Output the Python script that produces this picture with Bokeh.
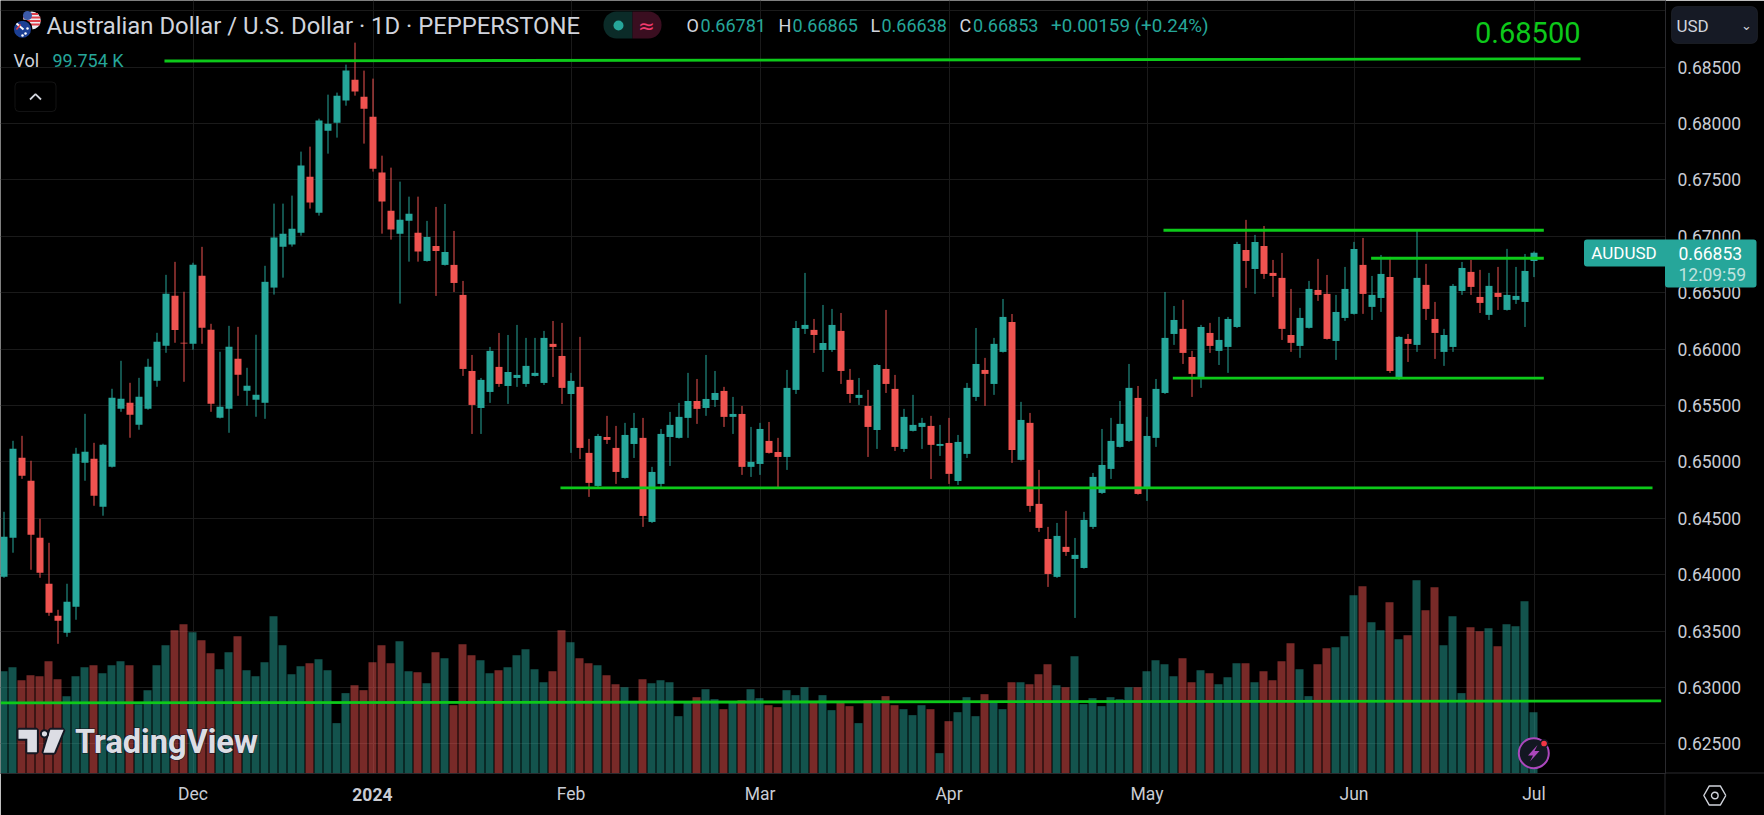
import math
from bokeh.embed import file_html
from bokeh.models import BoxAnnotation, ColumnDataSource, FixedTicker, Label, PrintfTickFormatter, Range1d
from bokeh.plotting import figure
from bokeh.resources import INLINE
from bokeh.transform import dodge

# ---------- data ----------
opens = [.63982,.64328,.65037,.64833,.64328,.63920,.63636,.63486,.63716,.64992,.65028,.64602,.64957,.65471,.65524,.65329,.65471,.65719,.66029,.66472,.66056,.66047,.66649,.66171,.65391,.65471,.65914,.65630,.65551,.65524,
 .66545,.66908,.66926,.67032,.67528,.67209,.67936,.68007,.68202,.68388,.68237,.68060,.67564,.67227,.67023,.67138,.67032,.66781,.66914,.66746,.66746,.66480,.65806,.65478,.65620,.65842,.65673,.65744,.65691,.65762,
 .65700,.66046,.65939,.65602,.65665,.65080,.64787,.65221,.65124,.64858,.65159,.65213,.64468,.64805,.65221,.65213,.65390,.65540,.65478,.65549,.65629,.65399,.65425,.64956,.64982,.65186,.65088,.65044,.65638,.66179,
 .66170,.65992,.65992,.66161,.65727,.65567,.65496,.65283,.65824,.65647,.65115,.65275,.65310,.65319,.65142,.65168,.64831,.65071,.65576,.65815,.65691,.65975,.66241,.65018,.65346,.64628,.64317,.63981,.64247,.64140,
 .64060,.64424,.64725,.64938,.65133,.65186,.65567,.64761,.65213,.65611,.66134,.66179,.65930,.65735,.66143,.65984,.66019,.66196,.66879,.66710,.66914,.66675,.66631,.66125,.66028,.66188,.66524,.66489,.66072,.66276,
 .66312,.66746,.66374,.66453,.66639,.65736,.66090,.66037,.66569,.66267,.65975,.66019,.66515,.66684,.66462,.66303,.66498,.66347,.66436,.66418,.66781]
highs = [.64558,.65187,.65231,.65010,.64496,.64283,.63689,.63920,.65125,.65426,.65169,.65161,.65648,.65896,.65701,.65745,.65914,.66144,.66658,.66773,.66508,.66765,.66906,.66224,.65976,.66206,.66197,.65834,.66127,.66738,
 .67289,.67289,.67360,.67750,.67794,.68042,.68255,.68273,.68521,.68716,.68468,.68397,.67714,.67608,.67484,.67351,.67351,.67136,.67260,.67286,.67047,.66604,.65948,.65744,.66019,.66143,.66125,.66214,.66099,.66099,
 .66161,.66249,.66232,.65789,.66108,.65204,.65248,.65408,.65319,.65346,.65434,.65390,.64956,.65292,.65443,.65523,.65789,.65735,.65948,.65806,.65665,.65576,.65496,.65310,.65346,.65354,.65213,.65815,.66249,.66675,
 .66267,.66391,.66356,.66320,.65824,.65744,.65638,.65868,.66347,.65771,.65470,.65594,.65390,.65408,.65328,.65390,.65239,.65700,.66187,.65922,.66099,.66444,.66311,.65532,.65434,.64929,.64424,.64459,.64566,.64326,
 .64557,.64902,.65292,.65390,.65540,.65868,.65673,.65399,.65735,.66506,.66382,.66436,.65984,.66214,.66232,.66285,.66285,.66950,.67145,.67012,.67091,.66790,.66852,.66533,.66365,.66604,.66799,.66657,.66480,.66728,
 .66950,.66985,.66648,.66834,.66817,.66114,.66134,.67047,.66755,.66418,.66179,.66577,.66772,.66790,.66702,.66675,.66728,.66888,.66728,.66843,.66865]
lows = [.63973,.64195,.64850,.64044,.63973,.63636,.63388,.63450,.63601,.64833,.64611,.64523,.64950,.65444,.65214,.65285,.65462,.65666,.65967,.66056,.65710,.65994,.66047,.65444,.65385,.65258,.65586,.65497,.65400,.65382,
 .66483,.66633,.66908,.67005,.67245,.67183,.67732,.67874,.68157,.68246,.67821,.67573,.67023,.66970,.66403,.66775,.66775,.66775,.66471,.66740,.66506,.65762,.65248,.65248,.65523,.65665,.65514,.65665,.65665,.65757,
 .65682,.65753,.65514,.65080,.65026,.64690,.64778,.65159,.64805,.64852,.65035,.64424,.64459,.64778,.64964,.65207,.65213,.65337,.65408,.65487,.65310,.65248,.64885,.64867,.64885,.65074,.64769,.64929,.65602,.66134,
 .65966,.65797,.65975,.65691,.65523,.65505,.65044,.65115,.65611,.65097,.65088,.65270,.65115,.64849,.65053,.64805,.64796,.65035,.65540,.65496,.65594,.65969,.64991,.65012,.64557,.64380,.63892,.63972,.64167,.63617,
 .64054,.64406,.64716,.64849,.65127,.65177,.64710,.64654,.65133,.65602,.66037,.65868,.65576,.65656,.65966,.65859,.65789,.66187,.66542,.66489,.66622,.66462,.66081,.65975,.65922,.66182,.66427,.66084,.65904,.66250,
 .66306,.66312,.66258,.66329,.65789,.65727,.65886,.65975,.66258,.65913,.65851,.65975,.66480,.66480,.66320,.66258,.66347,.66341,.66400,.66196,.66638]
closes = [.64336,.65116,.64877,.64354,.64017,.63663,.63592,.63760,.65072,.65090,.64700,.65152,.65568,.65559,.65418,.65577,.65843,.66065,.66490,.66168,.66050,.66747,.66189,.65515,.65488,.66020,.65772,.65675,.65595,.66596,
 .66988,.67023,.67067,.67626,.67298,.68025,.67998,.68246,.68468,.68282,.68131,.67599,.67307,.67059,.67147,.67200,.66864,.66994,.66870,.66861,.66586,.65824,.65505,.65727,.65984,.65691,.65797,.65771,.65851,.65789,
 .66099,.66019,.65656,.65718,.65124,.64814,.65230,.65195,.64911,.65239,.65301,.64521,.64911,.65248,.65328,.65399,.65540,.65470,.65558,.65611,.65399,.65425,.64956,.65000,.65292,.65080,.65044,.65656,.66187,.66214,
 .66125,.66054,.66214,.65806,.65602,.65594,.65310,.65859,.65691,.65133,.65399,.65328,.65346,.65151,.65159,.64894,.65177,.65656,.65868,.65780,.66046,.66285,.65106,.65372,.64610,.64415,.64007,.64344,.64202,.64176,
 .64486,.64867,.64973,.65186,.65337,.65656,.64716,.65230,.65647,.66099,.66258,.65966,.65780,.66196,.66028,.66081,.66267,.66932,.66781,.66950,.66666,.66648,.66179,.66055,.66276,.66533,.66480,.66090,.66329,.66533,
 .66888,.66489,.66480,.66666,.65806,.66108,.66046,.66631,.66356,.66143,.66125,.66560,.66719,.66551,.66409,.66560,.66462,.66480,.66471,.66693,.66853]
# volume, thousands
volumes = [166.4,172.9,151.8,159.9,158.3,182.7,153.4,125.8,158.3,172.9,176.2,163.2,176.2,182.7,176.2,112.8,135.5,176.2,208.7,233.1,242.9,229.9,216.8,195.7,169.7,197.3,223.3,168.1,158.3,181.1,
 255.9,208.7,161.5,174.6,179.4,185.9,168.1,81.9,130.7,143.7,135.5,181.1,208.7,179.4,215.2,166.4,164.8,146.9,197.3,187.6,111.1,210.3,192.4,184.3,163.2,168.1,172.9,192.4,202.2,169.7,
 148.5,166.4,233.1,213.6,187.6,179.4,176.2,159.9,145.3,140.4,118.2,153.4,146.9,151.8,148.5,93.2,116.0,124.1,137.1,120.9,104.6,116.0,119.3,137.1,122.5,111.1,107.9,135.5,127.4,140.4,
 116.6,127.4,103.0,114.9,109.5,81.9,119.3,119.3,125.8,111.1,104.6,94.9,111.1,104.6,33.1,85.1,99.7,124.1,93.2,129.0,116.0,104.6,148.5,148.5,145.3,161.5,177.8,143.7,140.4,190.8,
 112.8,122.5,109.5,124.1,120.9,140.4,140.4,166.4,184.3,177.8,158.3,187.6,148.5,168.1,163.2,145.3,156.7,179.4,179.4,148.5,166.4,151.8,182.7,212.0,169.7,125.8,177.8,203.8,205.5,223.3,
 290.0,304.7,246.1,233.1,278.6,218.5,225.0,314.4,265.6,303.0,208.7,255.9,130.7,238.0,231.5,236.4,207.1,242.9,239.6,280.3,99.754]
month_ticks = [21, 41, 63, 84, 105, 127, 150, 170]
month_labels = ["Dec", "2024", "Feb", "Mar", "Apr", "May", "Jun", "Jul"]
price_ticks = [.625,.63,.635,.64,.645,.65,.655,.66,.665,.67,.675,.68,.685]
grid_prices = price_ticks + [.69]
# drawn trend lines: bar index pairs and price pairs
trend_x = [[17.83,175.17],[61.83,183.17],[-0.39,184.13],[128.83,171.09],[151.9,171.09],[129.87,171.09]]
trend_y = [[.68553,.68572],[.6477,.6477],[.62864,.62882],[.67053,.67053],[.66805,.66805],[.65743,.65743]]

TEAL, RED, GREEN = "#26a69a", "#ef5350", "#0dc91a"
GREY, AXIS = "#d1d4dc", "#c9ccd4"
LINE = "#2a2a2e"
FONT = "Roboto"
W, H, PW, PH = 1764, 815, 1665, 773

idx = list(range(len(opens)))
colors = [TEAL if c >= o else RED for o, c in zip(opens, closes)]
src = ColumnDataSource(dict(i=idx, o=opens, h=highs, l=lows, c=closes, v=volumes, col=colors))

# main chart
p = figure(width=W, height=H, output_backend="svg", toolbar_location=None,
           x_range=Range1d(-3.5 / 9, (PW - 3.5) / 9),
           y_range=Range1d(.685 - (PH - 66.5) / 11283, .685 + 66.5 / 11283),
           y_axis_location="right", min_border=0, min_border_right=W - PW, min_border_bottom=H - PH,
           background_fill_color="#000000", border_fill_color="#000000", outline_line_color=None)
p.extra_y_ranges = {"vol": Range1d(0, PH / 0.6149)}

xa, ya = p.xaxis[0], p.yaxis[0]
xa.ticker = FixedTicker(ticks=month_ticks)
xa.major_label_overrides = {t: (l if l != "2024" else "") for t, l in zip(month_ticks, month_labels)}
ya.ticker = FixedTicker(ticks=price_ticks)
ya.formatter = PrintfTickFormatter(format="%.5f")
for a in (xa, ya):
    a.major_tick_line_color = None
    a.minor_tick_line_color = None
    a.axis_line_color = LINE
    a.major_label_text_color = AXIS
    a.major_label_text_font = FONT
    a.major_label_text_font_size = "17.5px"
xa.major_label_standoff = 4
ya.major_label_standoff = 6
p.xgrid.grid_line_color = "#1a1a1a"
p.ygrid.grid_line_color = "#1a1a1a"
p.xgrid.ticker = FixedTicker(ticks=month_ticks)
p.ygrid.ticker = FixedTicker(ticks=grid_prices)

p.vbar(x=dodge("i", -0.5 / 9), top="v", bottom=0, width=8 / 9, source=src, fill_color="col", fill_alpha=0.5,
       line_color=None, y_range_name="vol")
p.segment(x0="i", x1="i", y0="l", y1="h", source=src, line_color="col", line_width=1)
p.vbar(x="i", top="o", bottom="c", width=7 / 9, source=src, fill_color="col", line_color=None)
p.multi_line(xs=trend_x, ys=trend_y, line_color=GREEN, line_width=2.8)

# transparent page-sized sheet on top: header, tags, buttons, watermark (units are page pixels)
q = figure(width=W, height=H, output_backend="svg", toolbar_location=None,
           x_range=Range1d(0, W), y_range=Range1d(H, 0), x_axis_location=None, y_axis_location=None,
           min_border=0, background_fill_color=None, border_fill_color=None, outline_line_color=None,
           styles={"position": "absolute", "left": "0px", "top": "0px"})
q.grid.visible = False


def text(x, y, s, color=GREY, size=20, align="left", font=FONT, style="normal", **kw):
    q.add_layout(Label(x=x, y=y, text=s, text_color=color, text_font_size=f"{size}px", text_font=font,
                       text_font_style=style, text_align=align, text_baseline="middle", **kw))


def box(l, r, t, b, fill, line=None, radius=0, alpha=1):
    q.add_layout(BoxAnnotation(left=l, right=r, top=t, bottom=b, fill_color=fill, fill_alpha=alpha,
                               line_color=line, border_radius=radius))


# axis lines carried to the page edge
box(PW - 1, PW, PH, H, LINE)
box(PW, W, PH - 1, PH, LINE)

# flags
q.circle([31.3], [20], radius=9, fill_color="#eceef2", line_color=None)
for yy in (13.5, 17, 20.5, 24):
    half = math.sqrt(81 - (yy - 20) ** 2)
    q.line([31.3 - half, 31.3 + half], [yy, yy], line_color="#e0404a", line_width=2)
q.circle([27], [15], radius=4.5, fill_color="#3c5aa8", line_color=None)
q.circle([22], [28.7], radius=9.3, fill_color="#1b3f94", line_color="#000000", line_width=1.5)
q.line([16, 23], [23, 29], line_color="#ffffff", line_width=2)
q.line([16, 20], [29, 24], line_color="#e0404a", line_width=1.5)
q.scatter([25, 27, 22], [33, 28, 35], size=2.5, fill_color="#ffffff", line_color=None)

# header
text(46, 25, "Australian Dollar / U.S. Dollar · 1D · PEPPERSTONE", size=23.85)
box(603, 632, 38, 11, "#0b2b28", radius=(13, 0, 0, 13))
box(632, 661, 38, 11, "#3a0e20", radius=(0, 13, 13, 0))
q.circle([618], [25], radius=5, fill_color=TEAL, line_color=None, level="overlay")
text(646, 25, "≈", "#f23b6f", 20, "center", font="DejaVu Sans")
for lx_, letter, vx, val in ((686, "O", 700, "0.66781"), (778, "H", 792, "0.66865"), (870, "L", 881, "0.66638"),
                             (959, "C", 972.5, "0.66853")):
    text(lx_, 25, letter, size=18)
    text(vx, 25, val, TEAL, 18)
text(1050.5, 25, "+0.00159 (+0.24%)", TEAL, 18.8)
text(1580, 31.5, "0.68500", GREEN, 29, "right")

# volume legend and collapse button
text(13, 60, "Vol", size=18)
text(52, 60, "99.754 K", TEAL, 18)
box(14.5, 55.5, 111, 81.5, "#000000", "#3a3a40", 4, alpha=0)
q.line([29.5, 35, 40.5], [99, 93.7, 99], line_color=GREY, line_width=1.8)

# currency button
box(1671, 1757, 43, 6, "#161a25", "#3c404a", 6)
text(1676, 25, "USD", size=17)
text(1746, 25, "⌄", GREY, 13, "center", font="DejaVu Sans")

# last-price tags
box(1583.5, 1664.5, 266, 239, TEAL, radius=(3, 0, 0, 3))
box(1664.5, 1756, 287, 239, TEAL, radius=(0, 3, 3, 3))
text(1623.5, 252.7, "AUDUSD", "#ffffff", 17, "center")
text(1678, 252.7, "0.66853", "#ffffff", 17.5)
text(1678, 274, "12:09:59", "#bfe3df", 17.5)

# settings hexagon
hx = [1714.3 + 11 * math.cos(math.radians(a)) for a in range(0, 361, 60)]
hy = [795 + 11 * math.sin(math.radians(a)) for a in range(0, 361, 60)]
q.line(hx, hy, line_color=GREY, line_width=1.4)
q.circle([1714.3], [795], radius=3.3, fill_color=None, line_color=GREY, line_width=1.4)

# watermark
DARK = "#131722"
lx = [18, 36.4, 36.4, 26.8, 26.8, 18]
ly = [729.3, 729.3, 751.7, 751.7, 738.3, 738.3]
sx = [49.8, 63.1, 53.6, 42.9]
sy = [729.3, 729.3, 752.3, 752.3]
for xs_, ys_ in ((lx, ly), (sx, sy)):
    q.patch(xs_, ys_, fill_color="#dcdde4", line_color=DARK, line_width=4)
    q.patch(xs_, ys_, fill_color="#dcdde4", line_color=None)
q.circle([44], [733.3], radius=3.6, fill_color="#dcdde4", line_color=DARK, line_width=2)
text(74.5, 741, "TradingView", "#dcdde4", 32.5, style="bold", text_outline_color=DARK)
text(74.5, 741, "TradingView", "#dcdde4", 32.5, style="bold")

# lightning badge
q.circle([1533.3], [752.7], radius=15, fill_color=DARK, line_color="#ab47bc", line_width=2)
q.patch([1537, 1527.5, 1532.5, 1529.5, 1539, 1534], [744.5, 755, 755, 761, 750.5, 750.5], fill_color="#ab47bc",
        line_color=None)
q.circle([1543.6], [743], radius=3.6, fill_color="#f23645", line_color=DARK, line_width=1.5)

# bold year label
text(371.9, 793.5, month_labels[1], AXIS, 17.5, "center", style="bold")

open("out.html", "w").write(file_html([p, q], INLINE))
